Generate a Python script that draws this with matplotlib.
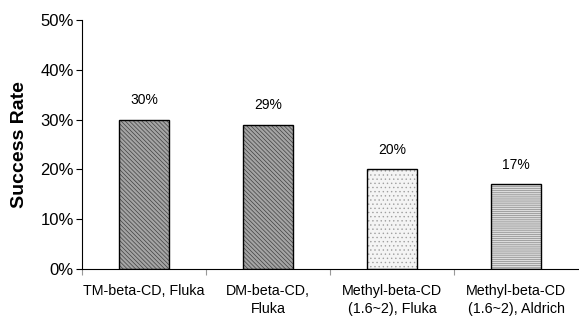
import matplotlib
matplotlib.use("Agg")
import matplotlib.pyplot as plt
from matplotlib.ticker import FuncFormatter, MultipleLocator

plt.rcParams['font.family'] = ['Liberation Sans', 'DejaVu Sans']
plt.rcParams['hatch.linewidth'] = 0.5

categories = ["TM-beta-CD, Fluka", "DM-beta-CD,\nFluka",
              "Methyl-beta-CD\n(1.6~2), Fluka", "Methyl-beta-CD\n(1.6~2), Aldrich"]
success_rate = [30, 29, 20, 17]
value_labels = ["30%", "29%", "20%", "17%"]

faces = ["#a4a4a4", "#a4a4a4", "#f4f4f4", "#dcdcdc"]
hatches = ["\\\\\\\\\\\\\\\\", "\\\\\\\\\\\\\\\\", "....", "--------"]
hatch_colors = ["#404040", "#404040", "#a0a0a0", "#8a8a8a"]

fig = plt.figure(figsize=(5.79, 3.2), dpi=100)
ax = fig.add_axes([82/579, 1 - 269/320, (578 - 82)/579, (269 - 20)/320])

x = list(range(len(categories)))
bars = ax.bar(x, success_rate, width=0.41, color=faces, edgecolor="black",
              linewidth=1.0, zorder=2)
for b, h, hc in zip(bars, hatches, hatch_colors):
    b.set_hatch(h)
    b._hatch_color = matplotlib.colors.to_rgba(hc)

for xi, v, lab in zip(x, success_rate, value_labels):
    ax.annotate(lab, (xi, v), xytext=(0, 9), textcoords="offset points",
                ha="center", va="bottom", fontsize=10)

ax.set_xlim(-0.5, len(categories) - 0.5)
ax.set_ylim(0, 50)
ax.yaxis.set_major_locator(MultipleLocator(10))
ax.yaxis.set_major_formatter(FuncFormatter(lambda v, p: f"{v:.0f}%"))
ax.tick_params(axis="y", labelsize=12, length=4, width=0.8, pad=2)

ax.set_xticks([i + 0.5 for i in x[:-1]] + [-0.5], minor=False)
ax.set_xticklabels([])
ax.set_xticks(x, minor=True)
ax.set_xticklabels(categories, minor=True, fontsize=10.3, linespacing=1.3)
ax.tick_params(axis="x", which="major", length=4, width=0.8, color="#999999")
ax.tick_params(axis="x", which="minor", length=0, pad=11)

for side in ["top", "right"]:
    ax.spines[side].set_visible(False)
ax.spines["left"].set_linewidth(0.8)
ax.spines["bottom"].set_linewidth(0.8)

ax.set_ylabel("Success Rate", fontsize=14, fontweight="bold")
ax.yaxis.set_label_coords(-0.108, 0.5)

fig.savefig("out.png", dpi=100)
